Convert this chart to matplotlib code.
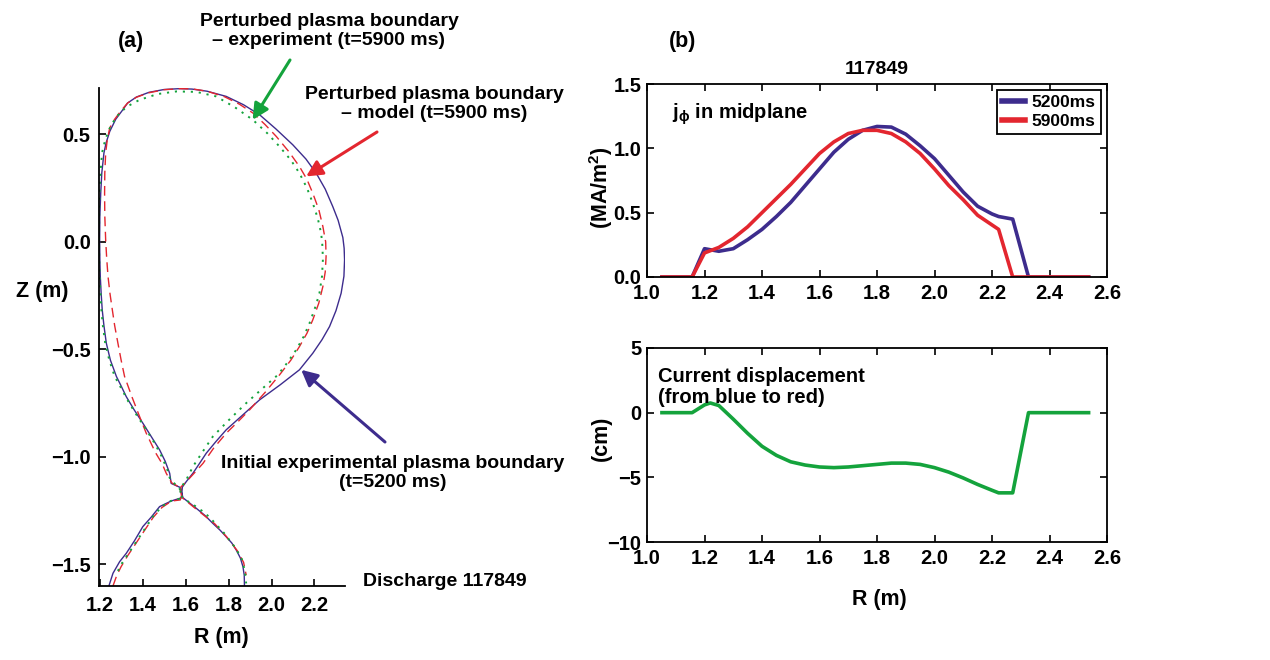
import matplotlib
matplotlib.use("Agg")
import matplotlib.pyplot as plt
from matplotlib.ticker import FixedLocator, FuncFormatter

# ---------------- data ----------------
# (a) plasma boundaries, R (m) and Z (m)
initial_R = [1.243, 1.262, 1.293, 1.324, 1.362, 1.401, 1.44, 1.479, 1.533, 1.58,
             1.585, 1.603, 1.634, 1.665, 1.696, 1.74, 1.789, 1.866, 1.944, 2.04,
             2.13, 2.192, 2.235, 2.27, 2.30, 2.324, 2.337, 2.34, 2.338, 2.332,
             2.31, 2.285, 2.25, 2.208, 2.16, 2.099, 2.02, 1.944, 1.87, 1.789,
             1.70, 1.63, 1.572, 1.50, 1.43, 1.371, 1.33, 1.308, 1.275, 1.247,
             1.23, 1.22, 1.21, 1.205, 1.201, 1.2, 1.201, 1.203, 1.207, 1.212,
             1.22, 1.231, 1.25, 1.278, 1.30, 1.324, 1.36, 1.401, 1.44, 1.479,
             1.505, 1.526, 1.533, 1.575, 1.588, 1.65, 1.69, 1.727, 1.76, 1.789,
             1.815, 1.836, 1.855, 1.867, 1.873, 1.874]
initial_Z = [-1.60, -1.541, -1.487, -1.448, -1.39, -1.324, -1.28, -1.231, -1.205, -1.19,
             -1.14, -1.115, -1.076, -1.03, -0.983, -0.93, -0.874, -0.805, -0.735, -0.665,
             -0.595, -0.518, -0.455, -0.394, -0.32, -0.239, -0.16, -0.084, -0.03, 0.02,
             0.10, 0.164, 0.245, 0.319, 0.385, 0.451, 0.525, 0.591, 0.637, 0.676,
             0.700, 0.710, 0.712, 0.708, 0.695, 0.673, 0.645, 0.614, 0.57, 0.513,
             0.46, 0.413, 0.32, 0.226, 0.12, 0.01, -0.08, -0.161, -0.24, -0.316,
             -0.39, -0.471, -0.55, -0.626, -0.67, -0.72, -0.78, -0.843, -0.905, -0.967,
             -1.02, -1.076, -1.123, -1.142, -1.19, -1.239, -1.272, -1.309, -1.34, -1.371,
             -1.40, -1.433, -1.47, -1.510, -1.55, -1.60]

model_R = [1.262, 1.28, 1.30, 1.33, 1.37, 1.41, 1.45, 1.49, 1.535, 1.575,
           1.578, 1.578, 1.611, 1.645, 1.681, 1.73, 1.789, 1.84, 1.898, 1.97,
           2.037, 2.09, 2.13, 2.165, 2.192, 2.22, 2.239, 2.25, 2.254, 2.252,
           2.239, 2.22, 2.192, 2.165, 2.13, 2.08, 2.022, 1.97, 1.913, 1.85,
           1.78, 1.70, 1.63, 1.572, 1.50, 1.43, 1.371, 1.33, 1.30, 1.27,
           1.247, 1.235, 1.228, 1.224, 1.223, 1.224, 1.228, 1.233, 1.239, 1.248,
           1.259, 1.27, 1.285, 1.30, 1.316, 1.35, 1.385, 1.417, 1.46, 1.49,
           1.51, 1.535, 1.57, 1.585, 1.64, 1.69, 1.735, 1.79, 1.84, 1.87, 1.882]
model_Z = [-1.60, -1.55, -1.51, -1.46, -1.40, -1.34, -1.28, -1.235, -1.205, -1.20,
           -1.19, -1.14, -1.107, -1.07, -1.03, -0.96, -0.89, -0.84, -0.781, -0.70,
           -0.619, -0.55, -0.487, -0.425, -0.363, -0.285, -0.208, -0.14, -0.068, 0.0,
           0.071, 0.15, 0.226, 0.29, 0.35, 0.42, 0.49, 0.545, 0.599, 0.64,
           0.675, 0.70, 0.711, 0.712, 0.707, 0.693, 0.672, 0.645, 0.61, 0.57,
           0.53, 0.47, 0.413, 0.32, 0.226, 0.12, 0.01, -0.08, -0.161, -0.24,
           -0.316, -0.39, -0.471, -0.55, -0.626, -0.72, -0.81, -0.89, -0.98, -1.03,
           -1.076, -1.12, -1.14, -1.19, -1.235, -1.275, -1.31, -1.37, -1.435, -1.49, -1.549]

exp_R = [1.285, 1.30, 1.33, 1.37, 1.41, 1.45, 1.49, 1.53, 1.57, 1.58,
         1.603, 1.634, 1.68, 1.727, 1.80, 1.882, 1.96, 2.029, 2.075, 2.115,
         2.15, 2.177, 2.205, 2.223, 2.235, 2.239, 2.237, 2.231, 2.215, 2.192,
         2.165, 2.13, 2.09, 2.037, 1.98, 1.913, 1.83, 1.742, 1.65, 1.557,
         1.47, 1.386, 1.33, 1.293, 1.265, 1.243, 1.225, 1.211, 1.204, 1.2,
         1.198, 1.197, 1.198, 1.2, 1.204, 1.208, 1.215, 1.226, 1.245, 1.27,
         1.30, 1.335, 1.375, 1.415, 1.455, 1.49, 1.515, 1.53, 1.57, 1.585,
         1.64, 1.69, 1.73, 1.78, 1.83, 1.86, 1.876, 1.882]
exp_Z = [-1.53, -1.50, -1.455, -1.395, -1.335, -1.275, -1.23, -1.205, -1.195, -1.14,
         -1.107, -1.045, -0.975, -0.905, -0.83, -0.75, -0.68, -0.619, -0.56, -0.502,
         -0.44, -0.378, -0.30, -0.239, -0.16, -0.084, -0.02, 0.04, 0.11, 0.18,
         0.25, 0.319, 0.38, 0.443, 0.505, 0.567, 0.625, 0.676, 0.697, 0.699,
         0.687, 0.66, 0.63, 0.599, 0.56, 0.521, 0.47, 0.413, 0.32, 0.226,
         0.12, 0.01, -0.08, -0.161, -0.24, -0.316, -0.39, -0.471, -0.55, -0.626,
         -0.68, -0.745, -0.81, -0.87, -0.935, -1.0, -1.06, -1.11, -1.14, -1.19,
         -1.225, -1.26, -1.30, -1.355, -1.42, -1.47, -1.53, -1.588]

# (b) midplane current density j_phi (MA/m^2)
R_5200 = [1.052, 1.105, 1.157, 1.200, 1.250, 1.300, 1.350, 1.400, 1.450, 1.500,
          1.550, 1.600, 1.650, 1.700, 1.750, 1.800, 1.850, 1.900, 1.950, 2.000,
          2.050, 2.100, 2.150, 2.200, 2.223, 2.272, 2.327, 2.400, 2.470, 2.536]
j_5200 = [0.0, 0.0, 0.0, 0.22, 0.20, 0.22, 0.29, 0.37, 0.47, 0.58,
          0.71, 0.84, 0.97, 1.07, 1.14, 1.17, 1.165, 1.11, 1.02, 0.92,
          0.79, 0.66, 0.55, 0.49, 0.47, 0.45, 0.0, 0.0, 0.0, 0.0]
R_5900 = [1.052, 1.105, 1.157, 1.200, 1.250, 1.300, 1.350, 1.400, 1.450, 1.500,
          1.550, 1.600, 1.650, 1.700, 1.750, 1.800, 1.850, 1.900, 1.950, 2.000,
          2.050, 2.100, 2.150, 2.223, 2.272, 2.327, 2.400, 2.470, 2.536]
j_5900 = [0.0, 0.0, 0.0, 0.187, 0.23, 0.30, 0.39, 0.50, 0.61, 0.72,
          0.84, 0.96, 1.05, 1.115, 1.14, 1.14, 1.115, 1.05, 0.96, 0.84,
          0.71, 0.60, 0.48, 0.37, 0.0, 0.0, 0.0, 0.0, 0.0]

# current displacement (cm)
R_disp = [1.052, 1.105, 1.157, 1.200, 1.220, 1.250, 1.300, 1.350, 1.400, 1.450,
          1.500, 1.550, 1.600, 1.650, 1.700, 1.750, 1.800, 1.850, 1.900, 1.950,
          2.000, 2.050, 2.100, 2.150, 2.200, 2.223, 2.272, 2.327, 2.400, 2.470, 2.536]
disp = [0.0, 0.0, 0.0, 0.6, 0.75, 0.55, -0.5, -1.6, -2.6, -3.3,
        -3.8, -4.05, -4.2, -4.25, -4.2, -4.1, -4.0, -3.9, -3.9, -4.0,
        -4.25, -4.6, -5.05, -5.55, -6.0, -6.2, -6.2, 0.0, 0.0, 0.0, 0.0]

legend_labels = ["5200ms", "5900ms"]
x_ticks_a = [1.2, 1.4, 1.6, 1.8, 2.0, 2.2]
y_ticks_a = [0.5, 0.0, -0.5, -1.0, -1.5]
x_ticks_b = [1.0, 1.2, 1.4, 1.6, 1.8, 2.0, 2.2, 2.4, 2.6]
y_ticks_top = [0.0, 0.5, 1.0, 1.5]
y_ticks_bot = [5, 0, -5, -10]

# ---------------- style ----------------
plt.rcParams['font.family'] = ['Liberation Sans', 'DejaVu Sans']
plt.rcParams['font.weight'] = 'bold'
plt.rcParams['mathtext.fontset'] = 'custom'
plt.rcParams['mathtext.rm'] = 'Liberation Sans:bold'
plt.rcParams['mathtext.it'] = 'Liberation Sans:bold'
plt.rcParams['mathtext.bf'] = 'Liberation Sans:bold'
plt.rcParams['axes.unicode_minus'] = True

BLUE = '#3d2c8d'
RED = '#e3262f'
GREEN = '#14a33c'
W, H = 1270, 660

fig = plt.figure(figsize=(12.7, 6.6), dpi=100)


def fx(x):
    return x / W


def fy(y):
    return 1 - y / H


def axes_px(l, t, r, b):
    return fig.add_axes([fx(l), fy(b), (r - l) / W, (b - t) / H])


def fmt1(v, pos):
    return f'{v:.1f}'.replace('-', '\u2212')


def fmt0(v, pos):
    return f'{v:.0f}'.replace('-', '\u2212')


TICK = 14.5

# ---- panel (a) ----
axa = axes_px(99, 88, 345, 586)
axa.plot(initial_R, initial_Z, color=BLUE, lw=1.0)
axa.plot(model_R, model_Z, color=RED, lw=1.0, dashes=(7, 4))
axa.plot(exp_R, exp_Z, color=GREEN, lw=1.4, dashes=(1.1, 3.0))
axa.set_xlim(1.197, 2.342)
axa.set_ylim(-1.60, 0.715)
for s in ['top', 'right']:
    axa.spines[s].set_visible(False)
for s in ['left', 'bottom']:
    axa.spines[s].set_linewidth(1.3)
axa.xaxis.set_major_locator(FixedLocator(x_ticks_a))
axa.yaxis.set_major_locator(FixedLocator(y_ticks_a))
axa.xaxis.set_major_formatter(FuncFormatter(fmt1))
axa.yaxis.set_major_formatter(FuncFormatter(fmt1))
axa.tick_params(direction='in', length=5, width=1.2, labelsize=TICK)
axa.tick_params(axis='x', pad=7)
axa.tick_params(axis='y', pad=6)

fig.text(fx(221), fy(637), 'R (m)', ha='center', va='center', fontsize=TICK + 1)
fig.text(fx(42), fy(291), 'Z (m)', ha='center', va='center', fontsize=TICK + 1)
fig.text(fx(131), fy(42), '(a)', ha='center', va='center', fontsize=TICK + 1)

ann = dict(fontsize=14, ha='center', va='center', linespacing=1.2)
fig.text(fx(329), fy(31), 'Perturbed plasma boundary\n– experiment (t=5900 ms)', **ann)
fig.text(fx(434), fy(104), 'Perturbed plasma boundary\n– model (t=5900 ms)', **ann)
fig.text(fx(393), fy(473), 'Initial experimental plasma boundary\n(t=5200 ms)', **ann)
fig.text(fx(363), fy(582), 'Discharge 117849', ha='left', va='center', fontsize=14)


def arrow(xy, tail_px, color):
    axa.annotate('', xy=xy, xycoords='data',
                 xytext=(fx(tail_px[0]), fy(tail_px[1])), textcoords='figure fraction',
                 annotation_clip=False,
                 arrowprops=dict(arrowstyle='-|>', color=color, lw=2.2,
                                 mutation_scale=24, shrinkA=0, shrinkB=0))


arrow((1.912, 0.567), (290, 60), GREEN)
arrow((2.161, 0.304), (377, 132), RED)
arrow((2.138, -0.595), (385, 442), BLUE)

# ---- panel (b) top ----
axt = axes_px(647, 84, 1107, 277)
axt.plot(R_5200, j_5200, color=BLUE, lw=2.6, label=legend_labels[0])
axt.plot(R_5900, j_5900, color=RED, lw=2.6, label=legend_labels[1])
axt.set_xlim(1.0, 2.6)
axt.set_ylim(0.0, 1.5)
axt.xaxis.set_major_locator(FixedLocator(x_ticks_b))
axt.yaxis.set_major_locator(FixedLocator(y_ticks_top))
axt.xaxis.set_major_formatter(FuncFormatter(fmt1))
axt.yaxis.set_major_formatter(FuncFormatter(fmt1))
axt.tick_params(direction='in', length=5, width=1.2, labelsize=TICK,
                top=True, right=True)
axt.tick_params(axis='x', pad=5)
axt.tick_params(axis='y', pad=4)
for s in axt.spines.values():
    s.set_linewidth(1.3)
leg = axt.legend(loc='upper right', fontsize=12.5, frameon=True, fancybox=False,
                 edgecolor='black', framealpha=1, borderpad=0.3, labelspacing=0.2,
                 handlelength=1.3, handletextpad=0.4, borderaxespad=0.35)
leg.get_frame().set_linewidth(1.3)
for h in leg.get_lines():
    h.set_linewidth(4)
axt.text((672 - 647) / 460, 0.845, r'j$_{\phi}$ in midplane', transform=axt.transAxes,
         fontsize=14.5, ha='left', va='center')
fig.text(fx(877), fy(70), '117849', ha='center', va='center', fontsize=14)
fig.text(fx(683), fy(42), '(b)', ha='center', va='center', fontsize=TICK + 1)
fig.text(fx(601), fy(188), '(MA/m$^{2}$)', rotation=90, ha='center', va='center', fontsize=TICK + 1)

# ---- panel (b) bottom ----
axb = axes_px(647, 348, 1107, 542)
axb.plot(R_disp, disp, color=GREEN, lw=2.6)
axb.set_xlim(1.0, 2.6)
axb.set_ylim(-10, 5)
axb.xaxis.set_major_locator(FixedLocator(x_ticks_b))
axb.yaxis.set_major_locator(FixedLocator(y_ticks_bot))
axb.xaxis.set_major_formatter(FuncFormatter(fmt1))
axb.yaxis.set_major_formatter(FuncFormatter(fmt0))
axb.tick_params(direction='in', length=5, width=1.2, labelsize=TICK,
                top=True, right=True)
axb.tick_params(axis='x', pad=5)
axb.tick_params(axis='y', pad=4)
for s in axb.spines.values():
    s.set_linewidth(1.3)
axb.text(0.025, 0.80, 'Current displacement\n(from blue to red)', transform=axb.transAxes,
         fontsize=14.5, ha='left', va='center', linespacing=1.1)
fig.text(fx(601), fy(438), '(cm)', rotation=90, ha='center', va='center', fontsize=TICK + 1)
fig.text(fx(879), fy(600), 'R (m)', ha='center', va='center', fontsize=TICK + 1)

fig.savefig('out.png', dpi=100)
